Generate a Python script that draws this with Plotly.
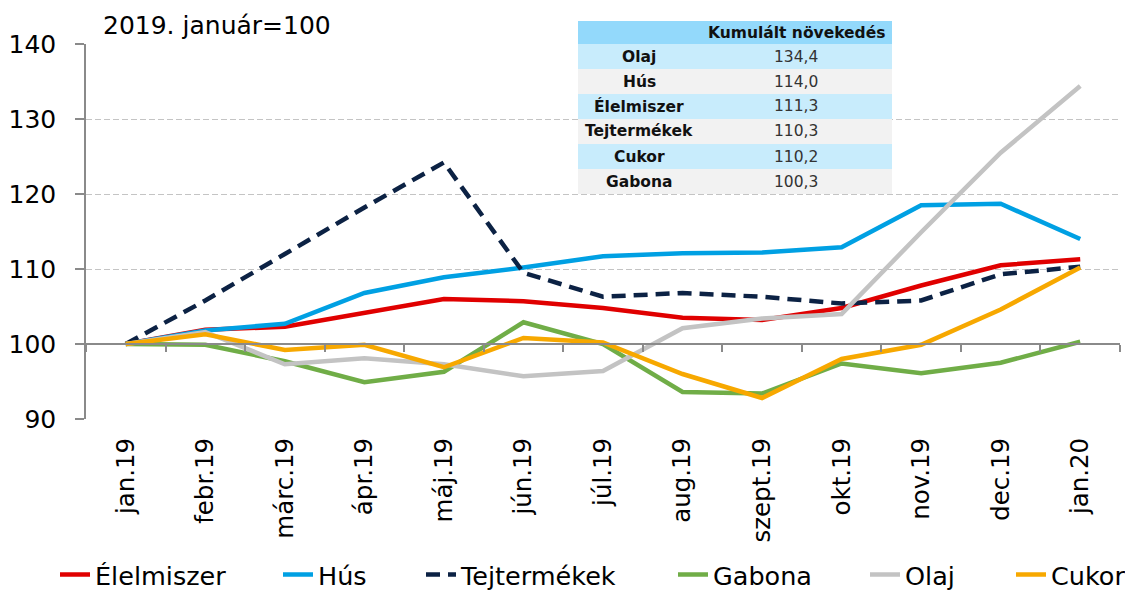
import plotly.graph_objects as go

categories = ["jan.19", "febr.19", "márc.19", "ápr.19", "máj.19", "jún.19", "júl.19",
              "aug.19", "szept.19", "okt.19", "nov.19", "dec.19", "jan.20"]

elelmiszer = [100, 101.9, 102.3, 104.1, 106.0, 105.7, 104.8, 103.5, 103.2, 104.8, 107.8, 110.5, 111.3]
hus = [100, 101.8, 102.7, 106.8, 108.9, 110.2, 111.7, 112.1, 112.2, 112.9, 118.5, 118.7, 114.0]
tejtermekek = [100, 105.8, 112.0, 118.2, 124.2, 109.5, 106.3, 106.8, 106.3, 105.4, 105.8, 109.3, 110.3]
gabona = [100, 99.9, 97.7, 94.9, 96.3, 102.9, 100.0, 93.6, 93.4, 97.4, 96.1, 97.5, 100.3]
olaj = [100, 101.6, 97.3, 98.1, 97.3, 95.7, 96.4, 102.1, 103.4, 104.0, 114.9, 125.5, 134.4]
cukor = [100, 101.3, 99.2, 99.9, 96.9, 100.8, 100.2, 96.0, 92.8, 98.0, 99.9, 104.6, 110.2]

table_names = ["Olaj", "Hús", "Élelmiszer", "Tejtermékek", "Cukor", "Gabona"]
table_values = ["134,4", "114,0", "111,3", "110,3", "110,2", "100,3"]
table_header = "Kumulált növekedés"

series_names = ["Élelmiszer", "Hús", "Tejtermékek", "Gabona", "Olaj", "Cukor"]
series_values = [elelmiszer, hus, tejtermekek, gabona, olaj, cukor]
series_colors = ["#e00000", "#00a0e3", "#0c2244", "#70ad47", "#c3c3c3", "#f7a800"]
series_dash = ["solid", "solid", "14px,8px", "solid", "solid", "solid"]
legend_text_x = [97, 320, 463, 715, 907, 1053]  # window px where each legend label starts

FONT = "DejaVu Sans, sans-serif"
OFF = 8                     # page body margin offsets the figure
W, H = 1133 - OFF, 590 - OFF
PL, PR, PT, PB = 86 - OFF, 1120 - OFF, 44 - OFF, 419 - OFF   # plot-area box (figure px)
y_min, y_max = 90, 140


def px2x(px):
    """window px -> paper x"""
    return (px - OFF - PL) / (PR - PL)


def py2y(py):
    """window px -> paper y"""
    return (PB - (py - OFF)) / (PB - PT)


fig = go.Figure()
for i, (name, vals, color, dash) in enumerate(zip(series_names, series_values, series_colors, series_dash)):
    lg = "legend" if i == 0 else "legend%d" % (i + 1)
    fig.add_trace(go.Scatter(
        x=categories, y=vals, name=name, mode="lines", legend=lg,
        line=dict(color=color, width=4.5, dash=dash),
    ))

# invisible trace to host the x-axis line drawn at y=100
fig.add_trace(go.Scatter(x=categories, y=[None] * len(categories), xaxis="x2",
                         showlegend=False, hoverinfo="skip"))

axis_gray = "#8a8a8a"
layout = dict(
    width=W, height=H,
    margin=dict(l=PL, r=W - PR, t=PT, b=H - PB),
    paper_bgcolor="white", plot_bgcolor="white",
    font=dict(family=FONT, color="#000"),
    showlegend=True,
    xaxis=dict(type="category", range=[-0.5, 12.5], showgrid=False, showline=False,
               ticks="outside", ticklen=8, tickcolor="rgba(0,0,0,0)",
               tickangle=-90, tickfont=dict(size=24.5, family=FONT), zeroline=False,
               automargin=False),
    xaxis2=dict(type="category", range=[-0.5, 12.5], overlaying="x", matches="x",
                anchor="free", position=(100 - y_min) / (y_max - y_min),
                showline=True, linecolor=axis_gray, linewidth=1.5,
                ticks="outside", tickson="boundaries", ticklen=7, tickcolor=axis_gray,
                tickwidth=1.5, showticklabels=False, showgrid=False, zeroline=False,
                automargin=False),
    yaxis=dict(range=[y_min, y_max], dtick=10,
               showgrid=True, gridcolor="#c4c4c4", griddash="6px,3px", gridwidth=1.3,
               showline=True, linecolor=axis_gray, linewidth=1.5,
               ticks="outside", ticklen=9, tickcolor=axis_gray, tickwidth=1.5,
               ticklabelstandoff=14, automargin=False,
               tickfont=dict(size=25, family=FONT), zeroline=False),
)
for i, tx in enumerate(legend_text_x):
    key = "legend" if i == 0 else "legend%d" % (i + 1)
    layout[key] = dict(orientation="h", xref="container", yref="container",
                       x=(tx - OFF - 42) / W, xanchor="left",
                       y=1 - (575 - OFF) / H, yanchor="middle",
                       font=dict(size=25.5, family=FONT, color="#000"),
                       bgcolor="rgba(0,0,0,0)", borderwidth=0)
fig.update_layout(**layout)

# title text
fig.add_annotation(text="2019. január=100", xref="paper", yref="paper",
                   x=px2x(101), y=py2y(25), xanchor="left", yanchor="middle",
                   showarrow=False, font=dict(size=25, family=FONT, color="#000"))

# cumulative-growth table drawn from the table lists
T_L, T_R, T_TOP, HDR_H, ROW_H = 578, 892, 21, 23, 25
COL1_C, COL2_C = 639, 796
fig.add_shape(type="rect", xref="paper", yref="paper", layer="above",
              x0=px2x(T_L), x1=px2x(T_R), y0=py2y(T_TOP), y1=py2y(T_TOP + HDR_H),
              fillcolor="#93d9fb", line=dict(width=0))
fig.add_annotation(text="<b>%s</b>" % table_header, xref="paper", yref="paper",
                   x=px2x(COL2_C), y=py2y(T_TOP + HDR_H / 2), xanchor="center", yanchor="middle",
                   showarrow=False, font=dict(size=15.5, family=FONT, color="#111"))
for r, (nm, val) in enumerate(zip(table_names, table_values)):
    top = T_TOP + HDR_H + r * ROW_H
    fig.add_shape(type="rect", xref="paper", yref="paper", layer="above",
                  x0=px2x(T_L), x1=px2x(T_R), y0=py2y(top), y1=py2y(top + ROW_H),
                  fillcolor="#c8ecfc" if r % 2 == 0 else "#f2f2f2", line=dict(width=0))
    fig.add_annotation(text="<b>%s</b>" % nm, xref="paper", yref="paper",
                       x=px2x(COL1_C), y=py2y(top + ROW_H / 2), xanchor="center", yanchor="middle",
                       showarrow=False, font=dict(size=15.5, family=FONT, color="#111"))
    fig.add_annotation(text=val, xref="paper", yref="paper",
                       x=px2x(COL2_C), y=py2y(top + ROW_H / 2), xanchor="center", yanchor="middle",
                       showarrow=False, font=dict(size=15.5, family=FONT, color="#333"))

fig.write_html("out.html")
